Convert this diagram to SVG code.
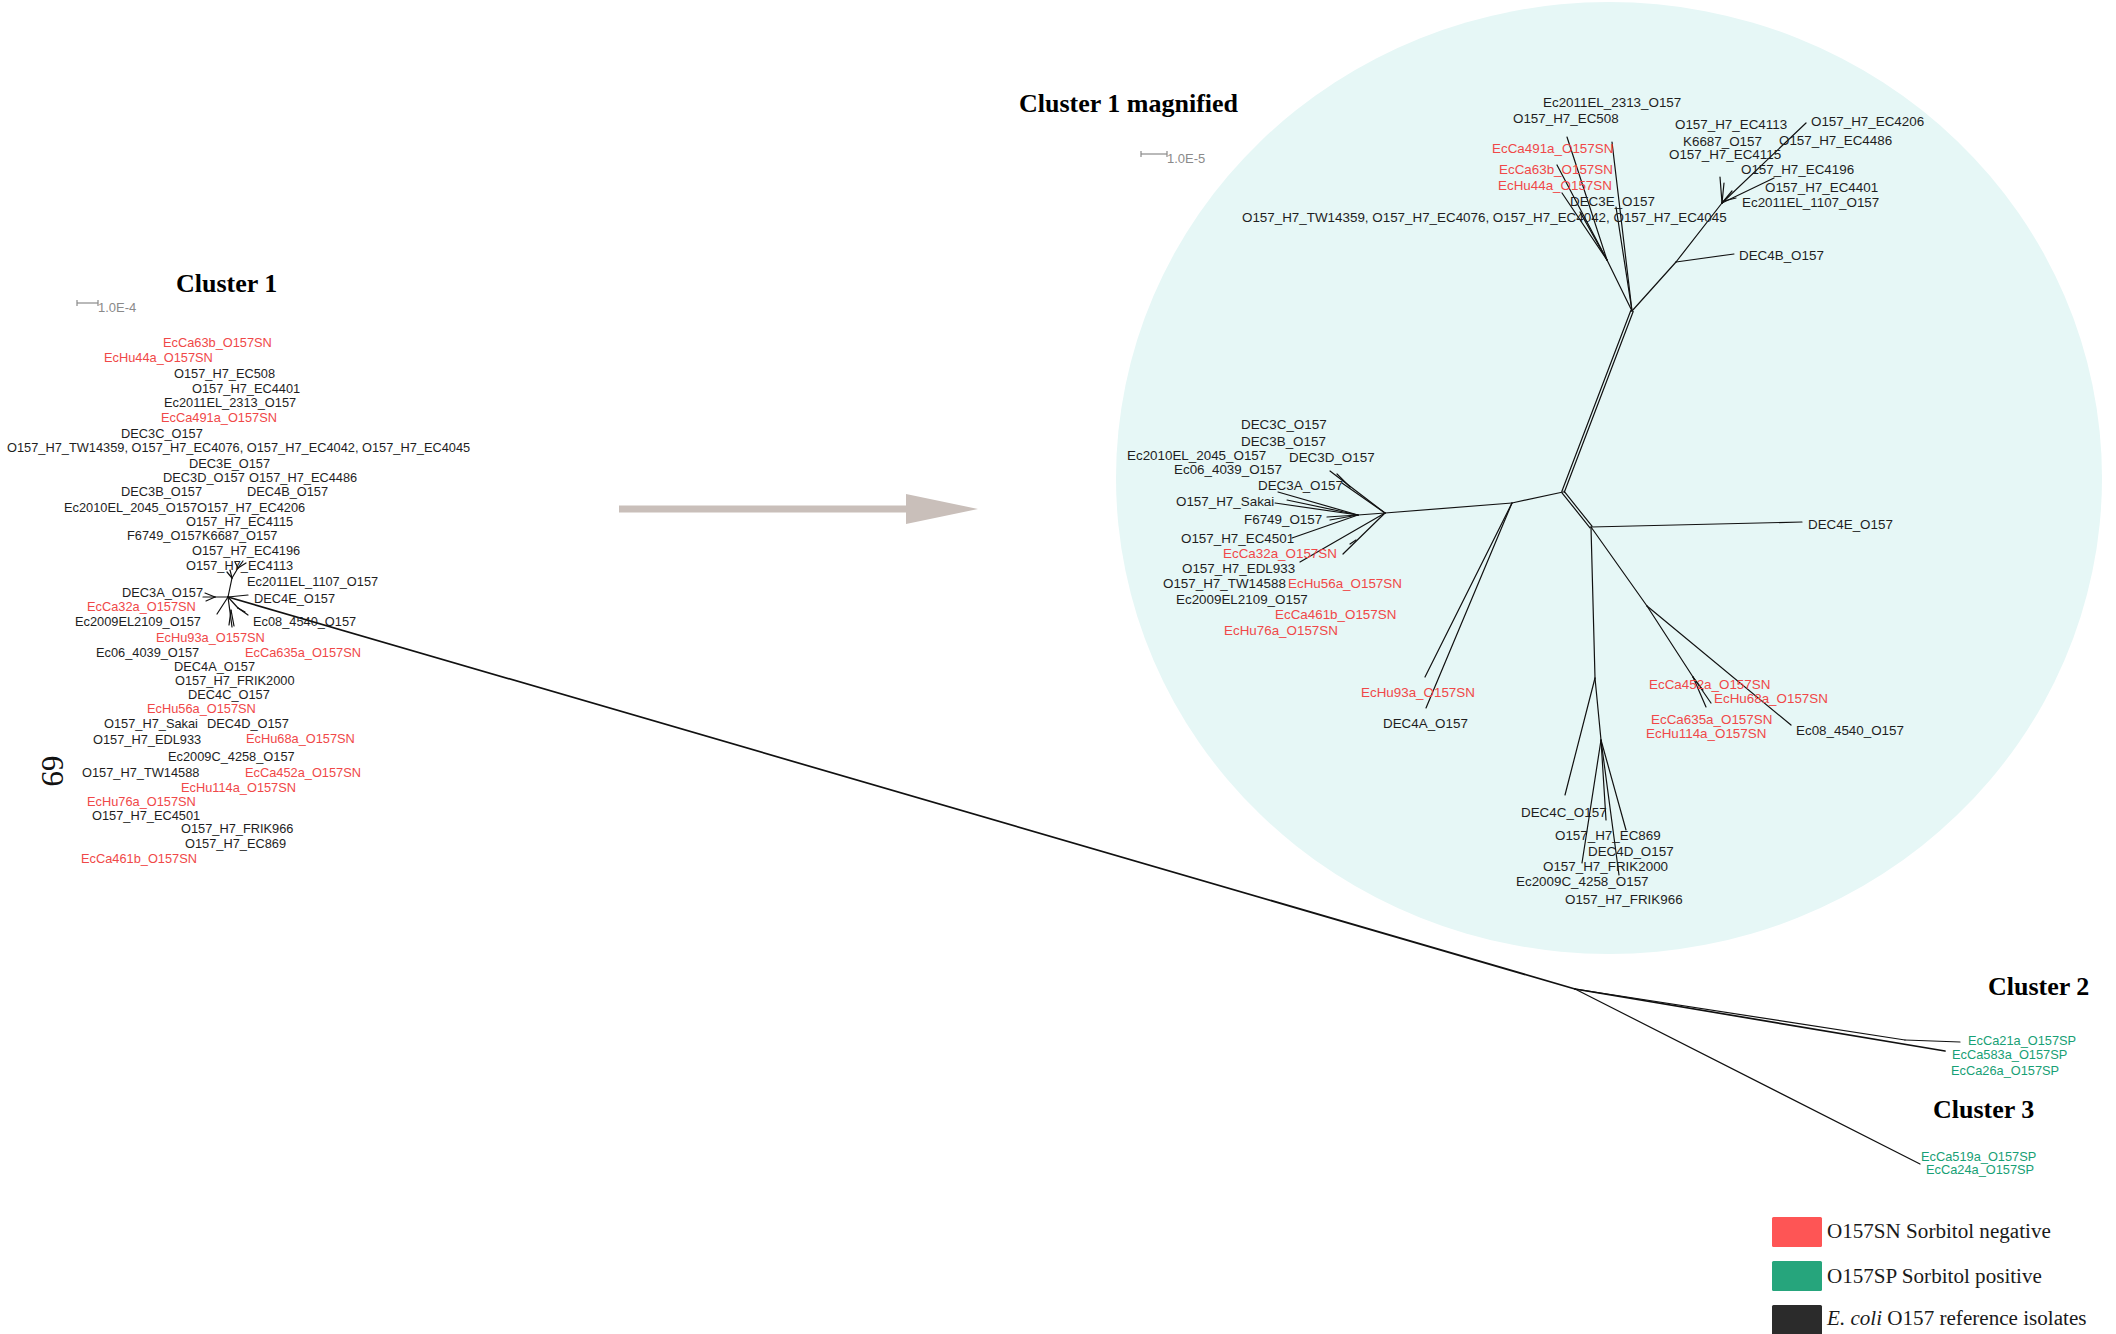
<svg xmlns="http://www.w3.org/2000/svg" width="2116" height="1334" viewBox="0 0 2116 1334">
  <style>
    .lab { font-family: "Liberation Sans", Arial, sans-serif; font-size: 12.8px; fill: #1e1e1e; }
    .mag { font-size: 13.4px; }
    .sn { fill: #f04848; }
    .sp { fill: #17a075; }
    .title { font-family: "Liberation Serif", "Times New Roman", serif; font-weight: bold; font-size: 26px; fill: #000; }
    .scale { font-family: "Liberation Sans", Arial, sans-serif; font-size: 13px; fill: #8a8a8a; }
    .legend { font-family: "Liberation Serif", "Times New Roman", serif; font-size: 21.1px; fill: #1a1a1a; }
    .br { stroke: #111; stroke-width: 1.2; fill: none; stroke-linecap: round; }
    .thick { stroke-width: 1.7; }
  </style>

  <rect x="0" y="0" width="2116" height="1334" fill="#ffffff"/>

  <!-- magnified area background -->
  <ellipse id="zoom-area" cx="1609" cy="478" rx="493" ry="476" fill="#e6f7f6"/>

  <!-- magnification arrow -->
  <g id="zoom-arrow" fill="#c9bfba">
    <rect x="619" y="505.5" width="288" height="7"/>
    <polygon points="906,494 978,509 906,524"/>
  </g>

  <!-- titles -->
  <g id="titles">
    <text class="title" x="176" y="292">Cluster 1</text>
    <text class="title" x="1019" y="112">Cluster 1 magnified</text>
    <text class="title" x="1988" y="995">Cluster 2</text>
    <text class="title" x="1933" y="1118">Cluster 3</text>
    <text x="42" y="771" transform="rotate(90 42 771)" text-anchor="middle" font-family="Liberation Serif, Times New Roman, serif" font-size="31" fill="#111">69</text>
  </g>

  <!-- scale bars -->
  <g id="scalebar-1" stroke="#8a8a8a" stroke-width="1.2">
    <line x1="77" y1="303" x2="98" y2="303"/>
    <line x1="77" y1="300" x2="77" y2="306"/>
    <line x1="98" y1="300" x2="98" y2="306"/>
  </g>
  <text class="scale" x="98" y="312">1.0E-4</text>
  <g id="scalebar-2" stroke="#8a8a8a" stroke-width="1.2">
    <line x1="1141" y1="154" x2="1167" y2="154"/>
    <line x1="1141" y1="151" x2="1141" y2="157"/>
    <line x1="1167" y1="151" x2="1167" y2="157"/>
  </g>
  <text class="scale" x="1167" y="163">1.0E-5</text>

  <!-- tree branches -->
  <g id="connectors" class="br">
    <!-- overview tree, cluster 1 core -->
    <line x1="228" y1="597" x2="232" y2="578"/>
    <line x1="232" y1="578" x2="230" y2="570"/>
    <line x1="232" y1="578" x2="227" y2="572"/>
    <line x1="232" y1="578" x2="238" y2="568"/>
    <line x1="238" y1="568" x2="235" y2="562"/>
    <line x1="238" y1="568" x2="243" y2="561"/>
    <line x1="238" y1="568" x2="246" y2="563"/>
    <line x1="228" y1="597" x2="215" y2="597"/>
    <line x1="215" y1="597" x2="203" y2="597"/>
    <line x1="215" y1="597" x2="205" y2="593"/>
    <line x1="215" y1="597" x2="206" y2="601"/>
    <line x1="228" y1="597" x2="217" y2="614"/>
    <line x1="228" y1="597" x2="232" y2="627"/>
    <line x1="231" y1="610" x2="229" y2="625"/>
    <line x1="231" y1="610" x2="234" y2="626"/>
    <line x1="228" y1="597" x2="238" y2="608"/>
    <line x1="238" y1="608" x2="248" y2="615"/>
    <line x1="238" y1="608" x2="245" y2="612"/>
    <line x1="228" y1="597" x2="248" y2="595"/>
    <line class="thick" x1="228" y1="597" x2="1575" y2="989"/>

    <!-- clusters 2 and 3 -->
    <line class="thick" x1="1575" y1="989" x2="1945" y2="1051"/>
    <line x1="1575" y1="989" x2="1905" y2="1040"/>
    <line x1="1905" y1="1040" x2="1960" y2="1042"/>
    <line x1="1575" y1="989" x2="1920" y2="1164"/>

    <!-- magnified tree: backbone (double lines) -->
    <line x1="1633.2" y1="311.5" x2="1564.2" y2="492.5"/>
    <line x1="1630.8" y1="310.5" x2="1561.8" y2="491.5"/>
    <line x1="1564" y1="491.2" x2="1592" y2="526.2"/>
    <line x1="1562" y1="492.8" x2="1590" y2="527.8"/>

    <!-- magnified: upper subtree -->
    <line x1="1632" y1="311" x2="1607" y2="260"/>
    <line x1="1607" y1="260" x2="1567" y2="137"/>
    <line x1="1607" y1="260" x2="1557" y2="165"/>
    <line x1="1607" y1="260" x2="1562" y2="193"/>
    <line x1="1607" y1="260" x2="1580" y2="212"/>
    <line x1="1632" y1="311" x2="1612" y2="142"/>
    <line x1="1632" y1="311" x2="1616" y2="207"/>
    <line x1="1632" y1="311" x2="1676" y2="262"/>
    <line x1="1676" y1="262" x2="1734" y2="254"/>
    <line x1="1676" y1="262" x2="1722" y2="203"/>
    <line x1="1722" y1="203" x2="1806" y2="123"/>
    <line x1="1722" y1="203" x2="1774" y2="178"/>
    <line x1="1722" y1="203" x2="1720" y2="177"/>
    <line x1="1722" y1="203" x2="1724" y2="183"/>
    <line x1="1722" y1="203" x2="1732" y2="191"/>
    <line x1="1724" y1="201" x2="1736" y2="198"/>

    <!-- magnified: left subtree -->
    <line x1="1563" y1="492" x2="1512" y2="503"/>
    <line x1="1512" y1="503" x2="1385" y2="513"/>
    <line x1="1512" y1="503" x2="1425" y2="677"/>
    <line x1="1512" y1="503" x2="1426" y2="708"/>
    <line x1="1385" y1="513" x2="1330" y2="471"/>
    <line x1="1385" y1="513" x2="1342" y2="483"/>
    <line x1="1350" y1="487" x2="1337" y2="474"/>
    <line x1="1385" y1="513" x2="1358" y2="515"/>
    <line x1="1358" y1="515" x2="1275" y2="503"/>
    <line x1="1358" y1="515" x2="1278" y2="492"/>
    <line x1="1358" y1="515" x2="1287" y2="500"/>
    <line x1="1358" y1="515" x2="1327" y2="517"/>
    <line x1="1358" y1="515" x2="1330" y2="520"/>
    <line x1="1358" y1="515" x2="1292" y2="538"/>
    <line x1="1385" y1="513" x2="1300" y2="562"/>
    <line x1="1385" y1="513" x2="1343" y2="554"/>
    <line x1="1356" y1="540" x2="1350" y2="544"/>

    <!-- magnified: right and lower subtrees -->
    <line x1="1591" y1="527" x2="1802" y2="522"/>
    <line x1="1591" y1="527" x2="1647" y2="606"/>
    <line x1="1647" y1="606" x2="1791" y2="725"/>
    <line x1="1647" y1="606" x2="1693" y2="677"/>
    <line x1="1693" y1="677" x2="1706" y2="707"/>
    <line x1="1693" y1="677" x2="1711" y2="703"/>
    <line x1="1693" y1="677" x2="1703" y2="690"/>
    <line x1="1591" y1="527" x2="1595" y2="678"/>
    <line x1="1595" y1="678" x2="1565" y2="795"/>
    <line x1="1595" y1="678" x2="1601" y2="740"/>
    <line x1="1601" y1="740" x2="1582" y2="863"/>
    <line x1="1601" y1="740" x2="1606" y2="820"/>
    <line x1="1601" y1="740" x2="1619" y2="875"/>
    <line x1="1601" y1="740" x2="1626" y2="830"/>
  </g>

  <!-- cluster 1 leaves (overview) -->
  <g id="cluster1-leaves" class="lab">
    <g id="c1-EcCa63b"><text class="sn" x="163" y="347">EcCa63b_O157SN</text></g>
    <g id="c1-EcHu44a"><text class="sn" x="104" y="362">EcHu44a_O157SN</text></g>
    <g id="c1-EC508"><text x="174" y="378">O157_H7_EC508</text></g>
    <g id="c1-EC4401"><text x="192" y="393">O157_H7_EC4401</text></g>
    <g id="c1-Ec2011EL2313"><text x="164" y="407">Ec2011EL_2313_O157</text></g>
    <g id="c1-EcCa491a"><text class="sn" x="161" y="422">EcCa491a_O157SN</text></g>
    <g id="c1-DEC3C"><text x="121" y="438">DEC3C_O157</text></g>
    <g id="c1-TW14359"><text x="7" y="452">O157_H7_TW14359, O157_H7_EC4076, O157_H7_EC4042, O157_H7_EC4045</text></g>
    <g id="c1-DEC3E"><text x="189" y="468">DEC3E_O157</text></g>
    <g id="c1-DEC3D"><text x="163" y="482">DEC3D_O157</text></g>
    <g id="c1-EC4486"><text x="249" y="482">O157_H7_EC4486</text></g>
    <g id="c1-DEC3B"><text x="121" y="496">DEC3B_O157</text></g>
    <g id="c1-DEC4B"><text x="247" y="496">DEC4B_O157</text></g>
    <g id="c1-Ec2010EL2045"><text x="64" y="512">Ec2010EL_2045_O157</text></g>
    <g id="c1-EC4206"><text x="197" y="512">O157_H7_EC4206</text></g>
    <g id="c1-EC4115"><text x="186" y="526">O157_H7_EC4115</text></g>
    <g id="c1-F6749"><text x="127" y="540">F6749_O157</text></g>
    <g id="c1-K6687"><text x="202" y="540">K6687_O157</text></g>
    <g id="c1-EC4196"><text x="192" y="555">O157_H7_EC4196</text></g>
    <g id="c1-EC4113"><text x="186" y="570">O157_H7_EC4113</text></g>
    <g id="c1-Ec2011EL1107"><text x="247" y="586">Ec2011EL_1107_O157</text></g>
    <g id="c1-DEC3A"><text x="122" y="597">DEC3A_O157</text></g>
    <g id="c1-DEC4E"><text x="254" y="603">DEC4E_O157</text></g>
    <g id="c1-EcCa32a"><text class="sn" x="87" y="611">EcCa32a_O157SN</text></g>
    <g id="c1-Ec2009EL2109"><text x="75" y="626">Ec2009EL2109_O157</text></g>
    <g id="c1-Ec08-4540"><text x="253" y="626">Ec08_4540_O157</text></g>
    <g id="c1-EcHu93a"><text class="sn" x="156" y="642">EcHu93a_O157SN</text></g>
    <g id="c1-Ec06-4039"><text x="96" y="657">Ec06_4039_O157</text></g>
    <g id="c1-EcCa635a"><text class="sn" x="245" y="657">EcCa635a_O157SN</text></g>
    <g id="c1-DEC4A"><text x="174" y="671">DEC4A_O157</text></g>
    <g id="c1-FRIK2000"><text x="175" y="685">O157_H7_FRIK2000</text></g>
    <g id="c1-DEC4C"><text x="188" y="699">DEC4C_O157</text></g>
    <g id="c1-EcHu56a"><text class="sn" x="147" y="713">EcHu56a_O157SN</text></g>
    <g id="c1-Sakai"><text x="104" y="728">O157_H7_Sakai</text></g>
    <g id="c1-DEC4D"><text x="207" y="728">DEC4D_O157</text></g>
    <g id="c1-EDL933"><text x="93" y="744">O157_H7_EDL933</text></g>
    <g id="c1-EcHu68a"><text class="sn" x="246" y="743">EcHu68a_O157SN</text></g>
    <g id="c1-Ec2009C4258"><text x="168" y="761">Ec2009C_4258_O157</text></g>
    <g id="c1-TW14588"><text x="82" y="777">O157_H7_TW14588</text></g>
    <g id="c1-EcCa452a"><text class="sn" x="245" y="777">EcCa452a_O157SN</text></g>
    <g id="c1-EcHu114a"><text class="sn" x="181" y="792">EcHu114a_O157SN</text></g>
    <g id="c1-EcHu76a"><text class="sn" x="87" y="806">EcHu76a_O157SN</text></g>
    <g id="c1-EC4501"><text x="92" y="820">O157_H7_EC4501</text></g>
    <g id="c1-FRIK966"><text x="181" y="833">O157_H7_FRIK966</text></g>
    <g id="c1-EC869"><text x="185" y="848">O157_H7_EC869</text></g>
    <g id="c1-EcCa461b"><text class="sn" x="81" y="863">EcCa461b_O157SN</text></g>
  </g>

  <!-- clusters 2 and 3 leaves -->
  <g id="cluster23-leaves" class="lab sp">
    <g id="c2-EcCa21a"><text x="1968" y="1045">EcCa21a_O157SP</text></g>
    <g id="c2-EcCa583a"><text x="1952" y="1059">EcCa583a_O157SP</text></g>
    <g id="c2-EcCa26a"><text x="1951" y="1075">EcCa26a_O157SP</text></g>
    <g id="c3-EcCa519a"><text x="1921" y="1161">EcCa519a_O157SP</text></g>
    <g id="c3-EcCa24a"><text x="1926" y="1174">EcCa24a_O157SP</text></g>
  </g>

  <!-- magnified cluster 1 leaves -->
  <g id="magnified-leaves" class="lab mag">
    <g id="m-Ec2011EL2313"><text x="1543" y="107">Ec2011EL_2313_O157</text></g>
    <g id="m-EC508"><text x="1513" y="123">O157_H7_EC508</text></g>
    <g id="m-EcCa491a"><text class="sn" x="1492" y="153">EcCa491a_O157SN</text></g>
    <g id="m-EcCa63b"><text class="sn" x="1499" y="174">EcCa63b_O157SN</text></g>
    <g id="m-EcHu44a"><text class="sn" x="1498" y="190">EcHu44a_O157SN</text></g>
    <g id="m-DEC3E"><text x="1570" y="206">DEC3E_O157</text></g>
    <g id="m-TW14359"><text x="1242" y="222">O157_H7_TW14359, O157_H7_EC4076, O157_H7_EC4042, O157_H7_EC4045</text></g>
    <g id="m-EC4113"><text x="1675" y="129">O157_H7_EC4113</text></g>
    <g id="m-EC4206"><text x="1811" y="126">O157_H7_EC4206</text></g>
    <g id="m-K6687"><text x="1683" y="146">K6687_O157</text></g>
    <g id="m-EC4486"><text x="1779" y="145">O157_H7_EC4486</text></g>
    <g id="m-EC4115"><text x="1669" y="159">O157_H7_EC4115</text></g>
    <g id="m-EC4196"><text x="1741" y="174">O157_H7_EC4196</text></g>
    <g id="m-EC4401"><text x="1765" y="192">O157_H7_EC4401</text></g>
    <g id="m-Ec2011EL1107"><text x="1742" y="207">Ec2011EL_1107_O157</text></g>
    <g id="m-DEC4B"><text x="1739" y="260">DEC4B_O157</text></g>

    <g id="m-DEC3C"><text x="1241" y="429">DEC3C_O157</text></g>
    <g id="m-DEC3B"><text x="1241" y="446">DEC3B_O157</text></g>
    <g id="m-Ec2010EL2045"><text x="1127" y="460">Ec2010EL_2045_O157</text></g>
    <g id="m-DEC3D"><text x="1289" y="462">DEC3D_O157</text></g>
    <g id="m-Ec06-4039"><text x="1174" y="474">Ec06_4039_O157</text></g>
    <g id="m-DEC3A"><text x="1258" y="490">DEC3A_O157</text></g>
    <g id="m-Sakai"><text x="1176" y="506">O157_H7_Sakai</text></g>
    <g id="m-F6749"><text x="1244" y="524">F6749_O157</text></g>
    <g id="m-EC4501"><text x="1181" y="543">O157_H7_EC4501</text></g>
    <g id="m-EcCa32a"><text class="sn" x="1223" y="558">EcCa32a_O157SN</text></g>
    <g id="m-EDL933"><text x="1182" y="573">O157_H7_EDL933</text></g>
    <g id="m-TW14588"><text x="1163" y="588">O157_H7_TW14588</text></g>
    <g id="m-EcHu56a"><text class="sn" x="1288" y="588">EcHu56a_O157SN</text></g>
    <g id="m-Ec2009EL2109"><text x="1176" y="604">Ec2009EL2109_O157</text></g>
    <g id="m-EcCa461b"><text class="sn" x="1275" y="619">EcCa461b_O157SN</text></g>
    <g id="m-EcHu76a"><text class="sn" x="1224" y="635">EcHu76a_O157SN</text></g>

    <g id="m-EcHu93a"><text class="sn" x="1361" y="697">EcHu93a_O157SN</text></g>
    <g id="m-DEC4A"><text x="1383" y="728">DEC4A_O157</text></g>
    <g id="m-DEC4E"><text x="1808" y="529">DEC4E_O157</text></g>
    <g id="m-EcCa452a"><text class="sn" x="1649" y="689">EcCa452a_O157SN</text></g>
    <g id="m-EcHu68a"><text class="sn" x="1714" y="703">EcHu68a_O157SN</text></g>
    <g id="m-EcCa635a"><text class="sn" x="1651" y="724">EcCa635a_O157SN</text></g>
    <g id="m-EcHu114a"><text class="sn" x="1646" y="738">EcHu114a_O157SN</text></g>
    <g id="m-Ec08-4540"><text x="1796" y="735">Ec08_4540_O157</text></g>
    <g id="m-DEC4C"><text x="1521" y="817">DEC4C_O157</text></g>
    <g id="m-EC869"><text x="1555" y="840">O157_H7_EC869</text></g>
    <g id="m-DEC4D"><text x="1588" y="856">DEC4D_O157</text></g>
    <g id="m-FRIK2000"><text x="1543" y="871">O157_H7_FRIK2000</text></g>
    <g id="m-Ec2009C4258"><text x="1516" y="886">Ec2009C_4258_O157</text></g>
    <g id="m-FRIK966"><text x="1565" y="904">O157_H7_FRIK966</text></g>
  </g>

  <!-- legend -->
  <g id="legend">
    <rect x="1772" y="1217" width="50" height="30" rx="1.5" fill="#fe5555"/>
    <text class="legend" x="1827" y="1238">O157SN Sorbitol negative</text>
    <rect x="1772" y="1261" width="50" height="30" rx="1.5" fill="#26a57c"/>
    <text class="legend" x="1827" y="1283">O157SP Sorbitol positive</text>
    <rect x="1772" y="1305" width="50" height="30" rx="1.5" fill="#2b2b2b"/>
    <text class="legend" x="1827" y="1325"><tspan font-style="italic">E. coli</tspan> O157 reference isolates</text>
  </g>
</svg>
